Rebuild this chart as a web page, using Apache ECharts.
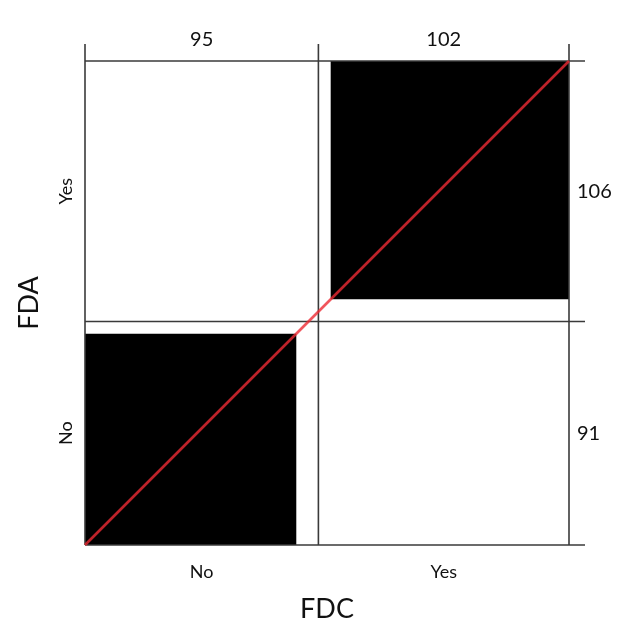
<!DOCTYPE html>
<html>
<head>
<meta charset="utf-8">
<style>html,body{margin:0;padding:0;background:#fff;}#chart{width:622px;height:622px;}</style>
<script src="https://cdn.jsdelivr.net/npm/echarts@6/dist/echarts.min.js"></script>
</head>
<body>
<div id="chart"></div>
<script>
// Categories (same order for both variables)
const fdcCategories = ['No', 'Yes'];
const fdaCategories = ['No', 'Yes'];
// counts[fdaIndex][fdcIndex]
const countsFdaNo = [86, 5];
const countsFdaYes = [9, 97];
const xName = 'FDC';
const yName = 'FDA';

const counts = [countsFdaNo, countsFdaYes];
const colTotals = fdcCategories.map((_, c) => counts.reduce((s, r) => s + r[c], 0));
const rowTotals = counts.map(r => r.reduce((s, v) => s + v, 0));
const total = colTotals.reduce((s, v) => s + v, 0);
const colCum = [0]; colTotals.forEach(v => colCum.push(colCum[colCum.length - 1] + v));
const rowCum = [0]; rowTotals.forEach(v => rowCum.push(rowCum[rowCum.length - 1] + v));

// exact agreement squares
const blackRects = fdcCategories.map((_, i) => {
  let offX = 0, offY = 0;
  for (let j = 0; j < i; j++) { offX += counts[j][i]; offY += counts[i][j]; }
  const x0 = colCum[i] + offX, y0 = rowCum[i] + offY;
  return [x0, y0, x0 + counts[i][i], y0 + counts[i][i]];
});

const FONT = 'Lato, "Noto Sans", sans-serif';
const LINE = '#3a3a3a';

const chart = echarts.init(document.getElementById('chart'));
chart.setOption({
  animation: false,
  backgroundColor: '#fff',
  grid: { left: 85, right: 53, top: 61, bottom: 77, containLabel: false, outerBoundsMode: 'none' },
  xAxis: {
    type: 'value', min: 0, max: total,
    axisLine: { show: false }, axisTick: { show: false }, axisLabel: { show: false }, splitLine: { show: false },
    name: xName, nameLocation: 'middle', nameGap: 51,
    nameTextStyle: { fontFamily: FONT, fontSize: 27, color: '#111' }
  },
  yAxis: {
    type: 'value', min: 0, max: total,
    axisLine: { show: false }, axisTick: { show: false }, axisLabel: { show: false }, splitLine: { show: false },
    name: yName, nameLocation: 'middle', nameGap: 42,
    nameTextStyle: { fontFamily: FONT, fontSize: 27, color: '#111' }
  },
  series: [
    {
      type: 'custom',
      data: blackRects,
      z: 1,
      renderItem: (params, api) => {
        const p0 = api.coord([api.value(0), api.value(1)]);
        const p1 = api.coord([api.value(2), api.value(3)]);
        return {
          type: 'rect',
          shape: { x: p0[0], y: p1[1], width: p1[0] - p0[0], height: p0[1] - p1[1] },
          style: { fill: '#000' }
        };
      }
    },
    {
      type: 'custom',
      data: [0],
      z: 2,
      renderItem: (params, api) => {
        const children = [];
        const top = api.coord([0, total])[1];
        const bottom = api.coord([0, 0])[1];
        const left = api.coord([0, 0])[0];
        const right = api.coord([total, 0])[0];
        colCum.forEach(v => {
          const x = api.coord([v, 0])[0];
          children.push({ type: 'line', shape: { x1: x, y1: top - 17, x2: x, y2: bottom }, style: { stroke: LINE, lineWidth: 1.6 } });
        });
        rowCum.forEach(v => {
          const y = api.coord([0, v])[1];
          children.push({ type: 'line', shape: { x1: left, y1: y, x2: right + 16, y2: y }, style: { stroke: LINE, lineWidth: 1.6 } });
        });
        // column totals on top, category labels at bottom
        colTotals.forEach((t, i) => {
          const x = api.coord([(colCum[i] + colCum[i + 1]) / 2, 0])[0];
          children.push({ type: 'text', x: x, y: top - 21, style: { text: String(t), fontFamily: FONT, fontSize: 20, fill: '#111', align: 'center', verticalAlign: 'middle' } });
          children.push({ type: 'text', x: x, y: bottom + 27, style: { text: fdcCategories[i], fontFamily: FONT, fontSize: 18, fill: '#111', align: 'center', verticalAlign: 'middle' } });
        });
        rowTotals.forEach((t, i) => {
          const y = api.coord([0, (rowCum[i] + rowCum[i + 1]) / 2])[1];
          children.push({ type: 'text', x: right + 8, y: y, style: { text: String(t), fontFamily: FONT, fontSize: 20, fill: '#111', align: 'left', verticalAlign: 'middle' } });
          children.push({ type: 'text', x: left - 19, y: y, rotation: Math.PI / 2, style: { text: fdaCategories[i], fontFamily: FONT, fontSize: 18, fill: '#111', align: 'center', verticalAlign: 'middle' } });
        });
        return { type: 'group', children };
      }
    },
    {
      type: 'line',
      z: 3,
      data: [[0, 0], [total, total]],
      showSymbol: false,
      silent: true,
      lineStyle: { color: '#ee2a33', width: 2.6, opacity: 0.8 }
    }
  ]
});
</script>
</body>
</html>
